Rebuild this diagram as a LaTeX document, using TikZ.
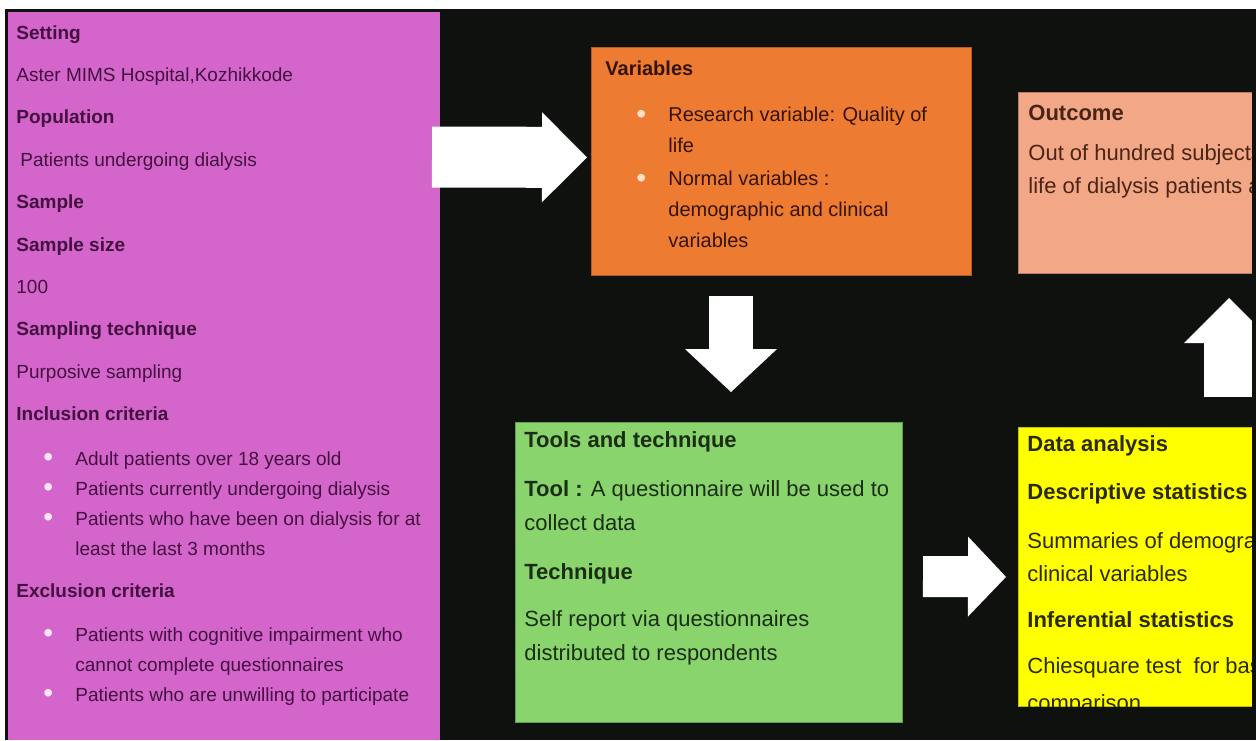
\documentclass[tikz,border=0pt]{standalone}
\usepackage{fontspec}
\setmainfont{Liberation Sans}
\usetikzlibrary{positioning, arrows.meta}

\definecolor{bgdark}{HTML}{0F110F}
\definecolor{pinkbox}{HTML}{D465CB}
\definecolor{pinktxt}{HTML}{431040}
\definecolor{pinkdot}{HTML}{FBE6F8}
\definecolor{orangebox}{HTML}{EE7B32}
\definecolor{orangetxt}{HTML}{361308}
\definecolor{orangedot}{HTML}{FBE3C9}
\definecolor{salmonbox}{HTML}{F2A886}
\definecolor{salmontxt}{HTML}{4A2416}
\definecolor{greenbox}{HTML}{8AD46E}
\definecolor{greentxt}{HTML}{1B2E13}
\definecolor{yellowbox}{HTML}{FFFF00}
\definecolor{yellowtxt}{HTML}{2A2A05}

\newcommand{\pbul}{\makebox[29.5pt][l]{\hspace{13.5pt}\smash{\raisebox{-0.6pt}{\fontsize{14}{14}\selectfont\textcolor{pinkdot}{\textbullet}}}}}
\newcommand{\obul}{\makebox[31.5pt][l]{\hspace{15.5pt}\smash{\raisebox{-0.6pt}{\fontsize{14}{14}\selectfont\textcolor{orangedot}{\textbullet}}}}}

\tikzset{
  box/.style={rectangle, draw=#1!75!black, line width=0.4pt, fill=#1, anchor=north west, inner sep=0pt},
  txt/.style={inner sep=0pt, align=left},
  fat/.style n args={3}{draw=white, line width=#1, -{Triangle[length=#2, width=#3, line width=0pt]}}
}

\begin{document}
\begin{tikzpicture}[x=0.5pt, y=-0.5pt]
\useasboundingbox (0,0) rectangle (1256,740);
\clip (0,0) rectangle (1256,740);
\fill[white] (0,0) rectangle (1256,740);
\fill[bgdark] (5,9) rectangle (1256,740);

% boxes
\node[box=pinkbox, draw=none, minimum width=216pt, minimum height=364pt] (pink) at (8,12) {};
\node[box=orangebox, minimum width=190pt, minimum height=114pt] (vars) at (591,47) {};
\node[box=salmonbox, minimum width=125pt, minimum height=90.5pt] (outcome) at (1018,92) {};
\node[box=greenbox, minimum width=193.5pt, minimum height=150pt] (tools) at (515,422) {};
\node[box=yellowbox, minimum width=125pt, minimum height=139.5pt] (analysis) at (1018,427) {};

% texts
\node[txt, text=pinktxt, font=\fontsize{9.5}{15}\selectfont, below right=6.5pt and 4pt of pink.north west] (pinktext) {%
\textbf{Setting}\\[6.2pt]
Aster MIMS Hospital,Kozhikkode\\[6.2pt]
\textbf{Population}\\[6.2pt]
\hspace*{2pt}Patients undergoing dialysis\\[6.2pt]
\textbf{Sample}\\[6.2pt]
\textbf{Sample size}\\[6.2pt]
100\\[6.2pt]
\textbf{Sampling technique}\\[6.2pt]
Purposive sampling\\[6.2pt]
\textbf{Inclusion criteria}\\[7.5pt]
\pbul Adult patients over 18 years old\\
\pbul Patients currently undergoing dialysis\\
\pbul Patients who have been on dialysis for at\\
\hspace*{29.5pt}least the last 3 months\\[6pt]
\textbf{Exclusion criteria}\\[7pt]
\pbul Patients with cognitive impairment who\\
\hspace*{29.5pt}cannot complete questionnaires\\
\pbul Patients who are unwilling to participate};

\node[txt, text=orangetxt, font=\fontsize{10}{15.5}\selectfont, below right=7pt and 7pt of vars.north west] (varstext) {%
\textbf{Variables}\\[7.5pt]
\obul Research variable: Quality of\\
\hspace*{31.5pt}life\\[1pt]
\obul Normal variables :\\
\hspace*{31.5pt}demographic and clinical\\
\hspace*{31.5pt}variables};

\node[txt, text=salmontxt, font=\fontsize{11}{16.5}\selectfont, below right=6.25pt and 5pt of outcome.north west] (outcometext) {%
\textbf{Outcome}\\[3.5pt]
Out of hundred subjects\\
life of dialysis patients a};

\node[txt, text=greentxt, font=\fontsize{11}{17}\selectfont, below right=4.5pt and 4.5pt of tools.north west] (toolstext) {%
\textbf{Tools and technique}\\[7.5pt]
\textbf{Tool :} A questionnaire will be used to\\
collect data\\[7.5pt]
\textbf{Technique}\\[6.5pt]
Self report via questionnaires\\
distributed to respondents};

\begin{scope}
\clip (analysis.north west) rectangle (analysis.south east);
\node[txt, text=yellowtxt, font=\fontsize{11}{16.5}\selectfont, below right=4pt and 4.5pt of analysis.north west] (analysistext) {%
\textbf{Data analysis}\\[7.5pt]
\textbf{Descriptive statistics}\\[8pt]
Summaries of demographic\\
clinical variables\\[6.5pt]
\textbf{Inferential statistics}\\[6.5pt]
Chiesquare test~ for baseline\\[2pt]
comparison};
\end{scope}

% arrows
\coordinate (a1) at (432,157);
\coordinate (a2) at (731,296);
\coordinate (a2e) at (731,392);
\coordinate (a3) at (923,576.5);
\coordinate (a4) at (1229,397);
\coordinate (a4e) at (1229,298);
\draw[fat={30.5pt}{22.5pt}{45pt}] (a1) -- ([xshift=-2pt, yshift=2pt]vars.west);
\draw[fat={22pt}{21.5pt}{46pt}] (a2) -- (a2e);
\draw[fat={20.5pt}{19pt}{40pt}] (a3) -- ([xshift=-6pt, yshift=-5pt]analysis.west);
\draw[fat={25pt}{22.5pt}{45pt}] (a4) -- (a4e);

\fill[bgdark] (1252,9) rectangle (1256,740);
\end{tikzpicture}
\end{document}
